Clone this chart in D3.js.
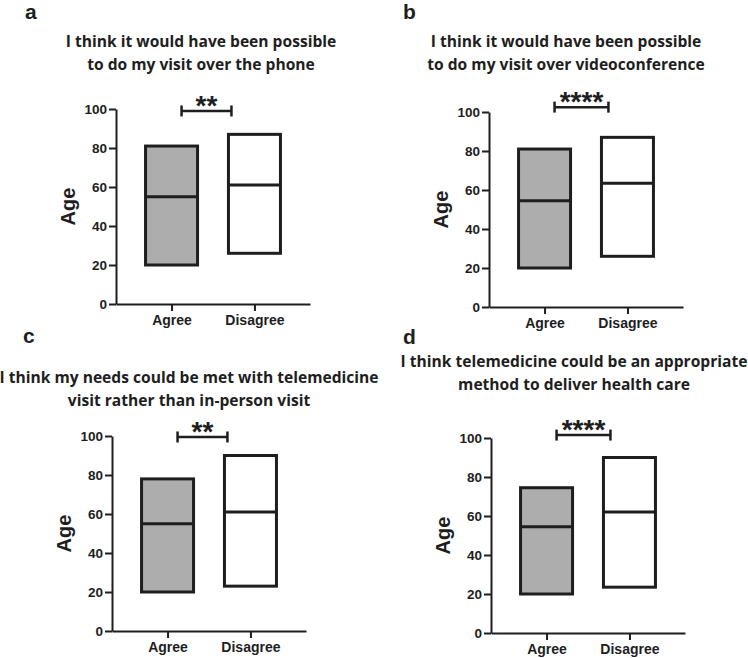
<!DOCTYPE html>
<html>
<head>
<meta charset="utf-8">
<script src="https://cdn.jsdelivr.net/npm/d3@7"></script>
<style>
  html, body { margin: 0; padding: 0; background: #fff; }
  svg { display: block; }
</style>
</head>
<body>
<svg id="chart" width="748" height="658"></svg>
<script>
// data
const panelLetters = ["a", "b", "c", "d"];
const titleLines = [
  ["I think it would have been possible", "to do my visit over the phone"],
  ["I think it would have been possible", "to do my visit over videoconference"],
  ["I think my needs could be met with telemedicine", "visit rather than in-person visit"],
  ["I think telemedicine could be an appropriate", "method to deliver health care"]
];
const categories = ["Agree", "Disagree"];
const minAges = [[20, 26], [20, 26], [20, 23], [20, 23.5]];
const medianAges = [[55, 61], [54.5, 63.5], [55, 61], [54.5, 62]];
const maxAges = [[81, 87], [81, 87], [78, 90], [74.5, 90]];
const sigLabels = ["**", "****", "**", "****"];
const sigLevels = [99, 102.5, 99.5, 101.5];
const yTicks = [0, 20, 40, 60, 80, 100];

// layout of each panel (axis origin etc.)
const layout = [
  { ox: 116, oy: 109, titleX: 201, titleY: 47, letterX: 25, letterY: 19 },
  { ox: 489, oy: 112, titleX: 566, titleY: 47, letterX: 403, letterY: 19 },
  { ox: 112, oy: 436, titleX: 189, titleY: 383, letterX: 23, letterY: 343 },
  { ox: 491, oy: 438, titleX: 574, titleY: 367, letterX: 403, letterY: 344 }
];

const plotW = 194;
const plotH = 195;
const boxW = 52;
const fills = ["#adadad", "#ffffff"];
const ink = "#1e1e1e";
const sans = "'Liberation Sans', Arial, sans-serif";

const svg = d3.select("#chart");

panelLetters.forEach((letter, i) => {
  const L = layout[i];

  // panel letter
  svg.append("text")
    .attr("x", L.letterX)
    .attr("y", L.letterY)
    .attr("font-family", sans)
    .attr("font-weight", "bold")
    .attr("font-size", "21px")
    .attr("fill", ink)
    .text(letter);

  // title
  const title = svg.append("text")
    .attr("text-anchor", "middle")
    .attr("font-family", "'Open Sans', sans-serif")
    .attr("font-weight", "bold")
    .attr("font-size", "15.6px")
    .attr("fill", ink);
  titleLines[i].forEach((line, k) => {
    title.append("tspan")
      .attr("x", L.titleX)
      .attr("y", L.titleY + k * 23)
      .text(line);
  });

  const g = svg.append("g")
    .attr("transform", `translate(${L.ox},${L.oy})`);

  const x = d3.scalePoint()
    .domain(categories)
    .range([0, plotW])
    .padding(0.67);

  const y = d3.scaleLinear()
    .domain([0, 100])
    .range([plotH, 0]);

  // y axis
  const yAxis = g.append("g")
    .call(d3.axisLeft(y).tickValues(yTicks).tickSize(7).tickSizeOuter(0).tickPadding(2));
  yAxis.select(".domain").attr("stroke", ink).attr("stroke-width", 2);
  yAxis.selectAll(".tick line").attr("stroke", ink).attr("stroke-width", 2);
  yAxis.selectAll(".tick text")
    .attr("font-family", sans)
    .attr("font-weight", "bold")
    .attr("font-size", "13.5px")
    .attr("fill", ink);

  // x axis
  const xAxis = g.append("g")
    .attr("transform", `translate(0,${plotH})`)
    .call(d3.axisBottom(x).tickSize(7).tickSizeOuter(0).tickPadding(4));
  xAxis.select(".domain").attr("stroke", ink).attr("stroke-width", 2);
  xAxis.selectAll(".tick line").attr("stroke", ink).attr("stroke-width", 2);
  xAxis.selectAll(".tick text")
    .attr("font-family", sans)
    .attr("font-weight", "bold")
    .attr("font-size", "14px")
    .attr("fill", ink);

  // y label
  g.append("text")
    .attr("transform", `translate(-41,${y(50)}) rotate(-90)`)
    .attr("text-anchor", "middle")
    .attr("font-family", sans)
    .attr("font-weight", "bold")
    .attr("font-size", "20px")
    .attr("fill", ink)
    .text("Age");

  // floating boxes (min to max, line at median)
  const rows = categories.map((c, j) => ({
    cat: c,
    lo: minAges[i][j],
    med: medianAges[i][j],
    hi: maxAges[i][j],
    fill: fills[j]
  }));

  g.selectAll(".box")
    .data(rows)
    .enter()
    .append("rect")
    .attr("class", "box")
    .attr("x", d => x(d.cat) - boxW / 2)
    .attr("y", d => y(d.hi))
    .attr("width", boxW)
    .attr("height", d => y(d.lo) - y(d.hi))
    .attr("fill", d => d.fill)
    .attr("stroke", ink)
    .attr("stroke-width", 3);

  g.selectAll(".median")
    .data(rows)
    .enter()
    .append("line")
    .attr("class", "median")
    .attr("x1", d => x(d.cat) - boxW / 2)
    .attr("x2", d => x(d.cat) + boxW / 2)
    .attr("y1", d => y(d.med))
    .attr("y2", d => y(d.med))
    .attr("stroke", ink)
    .attr("stroke-width", 3);

  // significance bracket
  const bx1 = x("Agree") + 10;
  const bx2 = x("Disagree") - (sigLabels[i].length > 2 ? 19 : 23);
  const by = y(sigLevels[i]);
  const br = g.append("g")
    .attr("stroke", ink)
    .attr("stroke-width", 2.5);
  br.append("line").attr("x1", bx1).attr("x2", bx2).attr("y1", by).attr("y2", by);
  br.append("line").attr("x1", bx1).attr("x2", bx1).attr("y1", by - 5.5).attr("y2", by + 5.5);
  br.append("line").attr("x1", bx2).attr("x2", bx2).attr("y1", by - 5.5).attr("y2", by + 5.5);

  g.append("text")
    .attr("x", (bx1 + bx2) / 2)
    .attr("y", by + 4)
    .attr("text-anchor", "middle")
    .attr("font-family", sans)
    .attr("font-weight", "bold")
    .attr("font-size", "28px")
    .attr("fill", ink)
    .text(sigLabels[i]);
});
</script>
</body>
</html>
